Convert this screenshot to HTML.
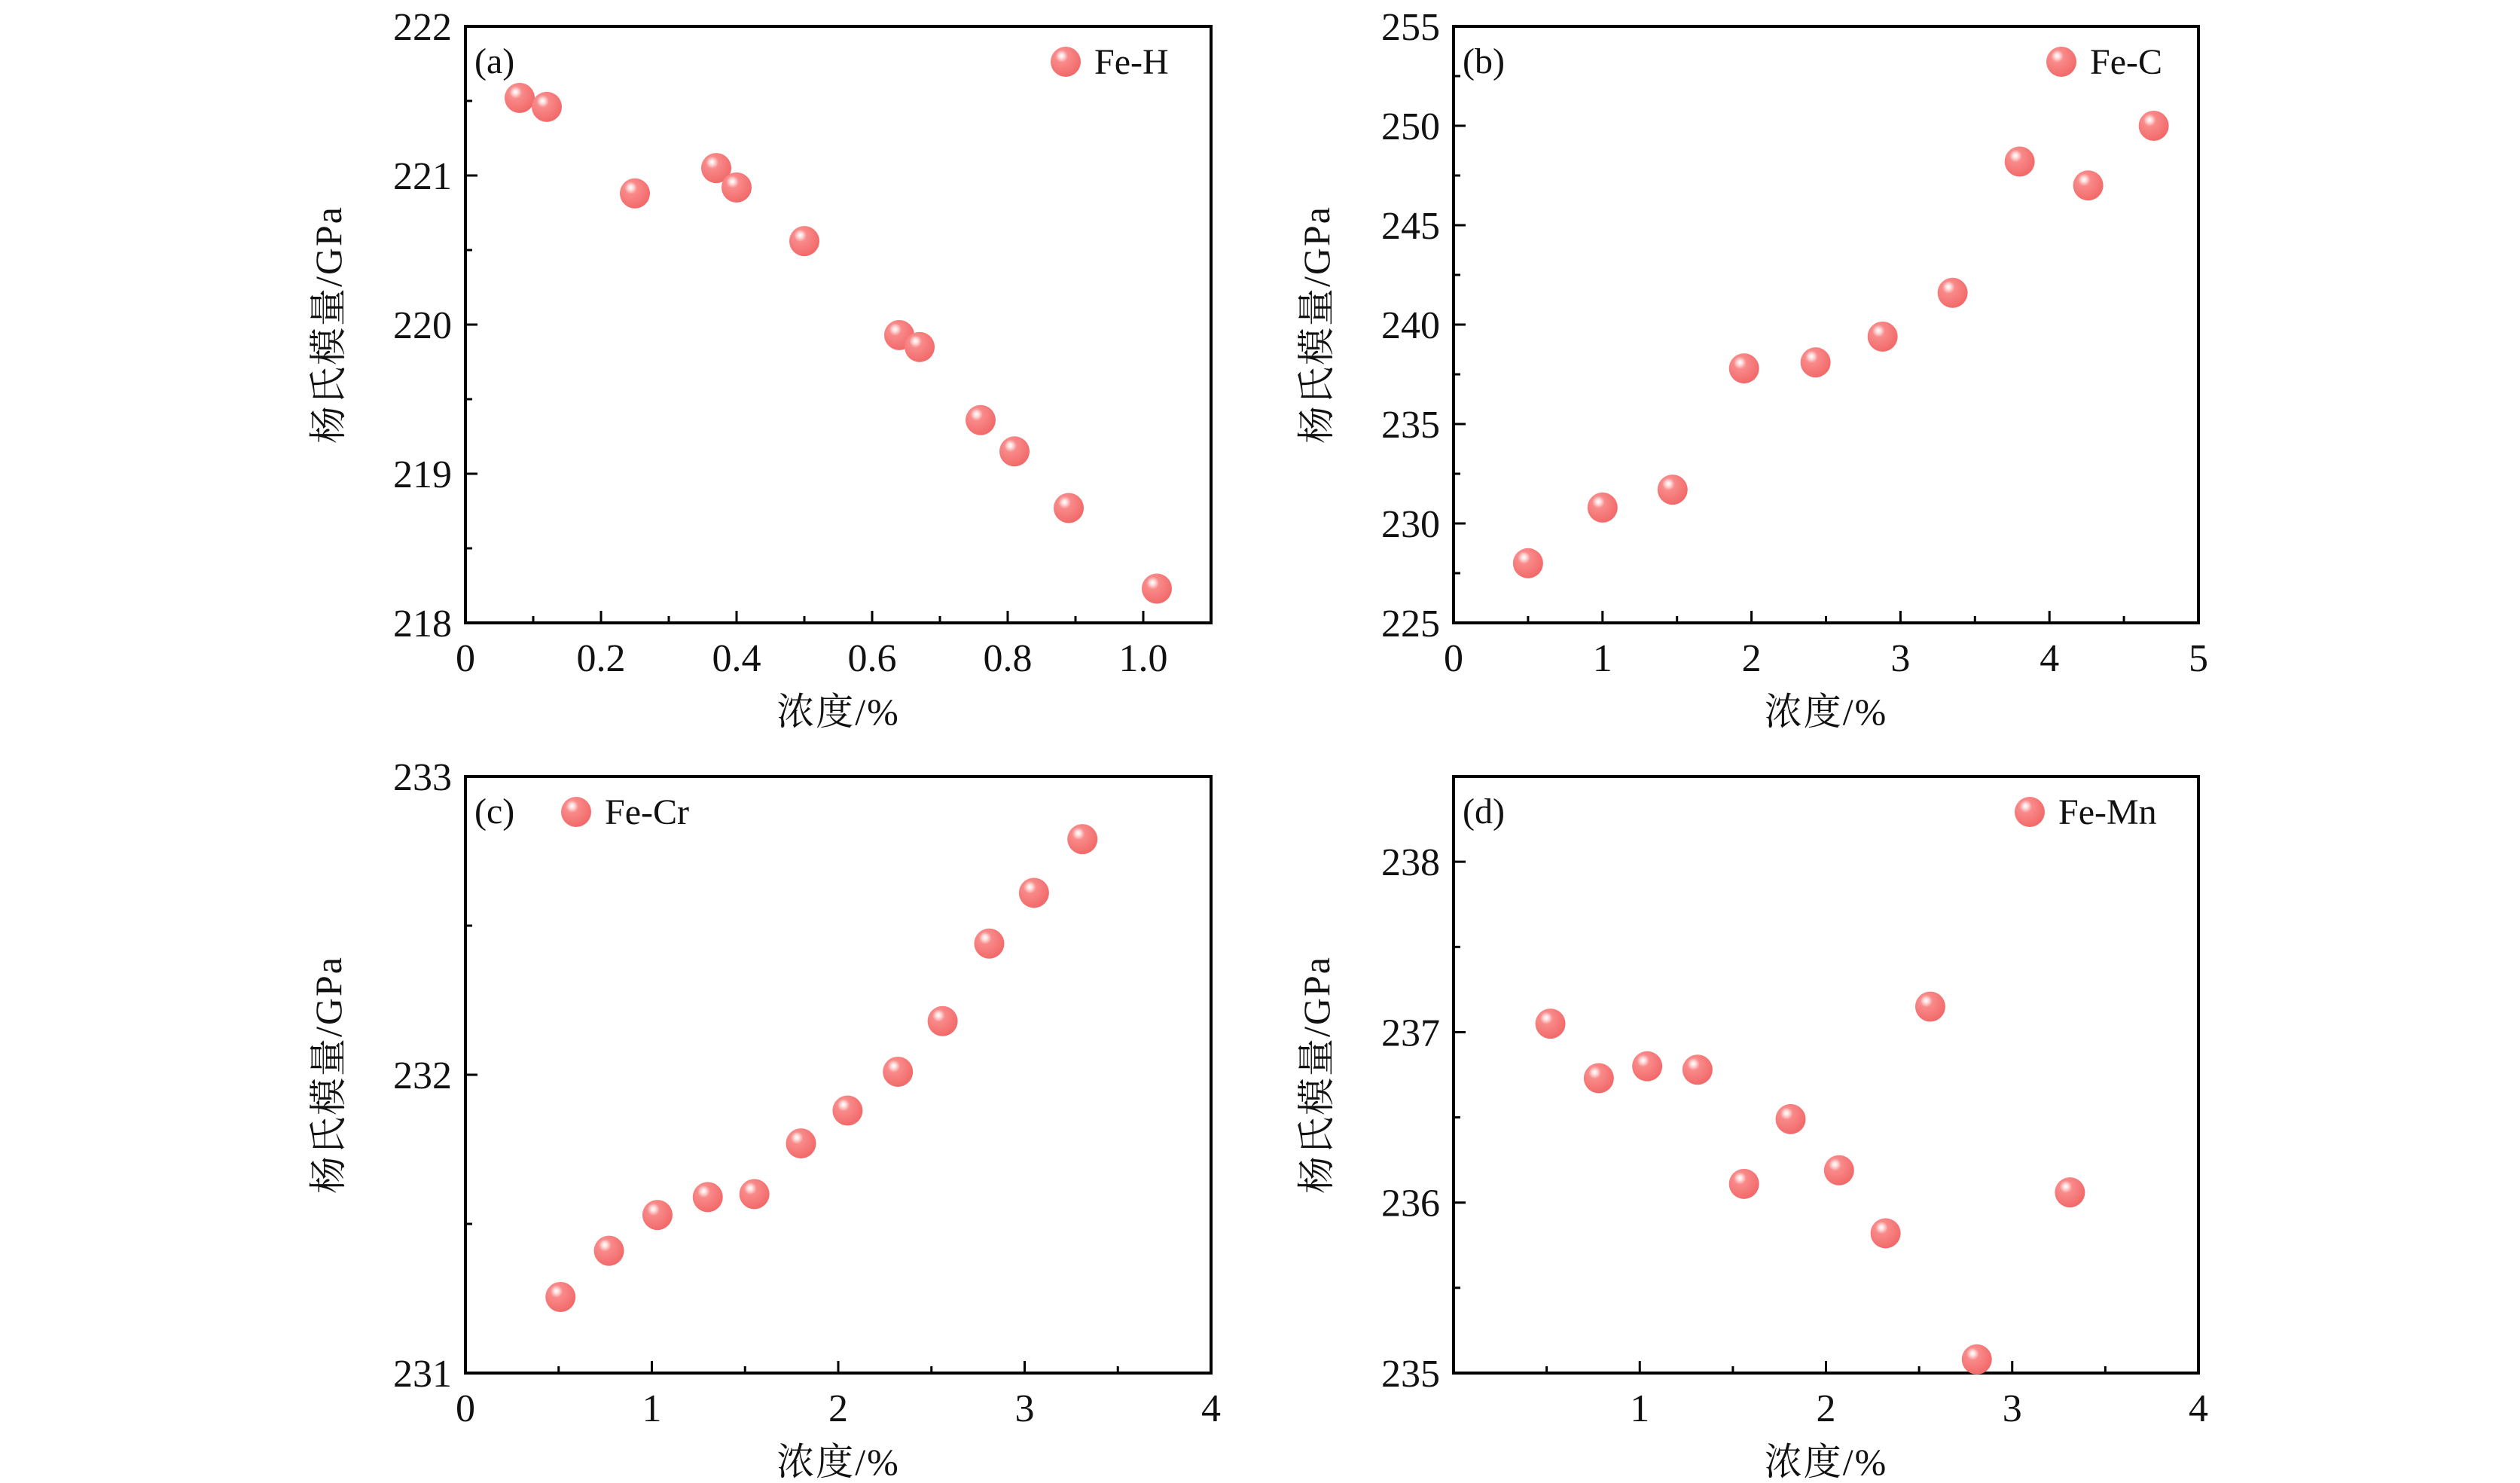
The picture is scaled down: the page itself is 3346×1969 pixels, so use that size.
<!DOCTYPE html>
<html><head><meta charset="utf-8"><style>
html,body{margin:0;padding:0;background:#fff;}
svg{display:block;}
text{font-family:"Liberation Serif","Noto Serif CJK SC",serif;fill:#111;}
</style></head><body>
<svg id="chart" width="3346" height="1969" viewBox="0 0 3346 1969" xmlns="http://www.w3.org/2000/svg">
<defs>
<radialGradient id="ball" cx="0.38" cy="0.35" r="0.65" fx="0.36" fy="0.3">
<stop offset="0" stop-color="#ffffff"/>
<stop offset="0.12" stop-color="#fde0e0"/>
<stop offset="0.32" stop-color="#f98a8a"/>
<stop offset="1" stop-color="#f26a6a"/>
</radialGradient>
</defs>
</svg>
<script>
// Panel (a) Fe-H
const aX = [0.08,0.12,0.25,0.37,0.40,0.50,0.64,0.67,0.76,0.81,0.89,1.02];
const aY = [221.52,221.46,220.88,221.05,220.92,220.56,219.93,219.85,219.36,219.15,218.77,218.23];
const aXTicks = ["0","0.2","0.4","0.6","0.8","1.0"];
const aYTicks = ["218","219","220","221","222"];
// Panel (b) Fe-C
const bX = [0.5,1.0,1.47,1.95,2.43,2.88,3.35,3.8,4.26,4.7];
const bY = [228.0,230.8,231.7,237.8,238.1,239.4,241.6,248.2,247.0,250.0];
const bXTicks = ["0","1","2","3","4","5"];
const bYTicks = ["225","230","235","240","245","250","255"];
// Panel (c) Fe-Cr
const cX = [0.51,0.77,1.03,1.30,1.55,1.80,2.05,2.32,2.56,2.81,3.05,3.31];
const cY = [231.255,231.41,231.53,231.59,231.60,231.77,231.88,232.01,232.18,232.44,232.61,232.79];
const cXTicks = ["0","1","2","3","4"];
const cYTicks = ["231","232","233"];
// Panel (d) Fe-Mn
const dX = [0.52,0.78,1.04,1.31,1.56,1.81,2.07,2.32,2.56,2.81,3.31];
const dY = [237.05,236.73,236.80,236.78,236.11,236.49,236.19,235.82,237.15,235.08,236.06];
const dXTicks = ["1","2","3","4"];
const dYTicks = ["235","236","237","238"];

const NS="http://www.w3.org/2000/svg";
const svg=document.getElementById('chart');
function mk(tag,attrs,parent){const e=document.createElementNS(NS,tag);for(const k in attrs)e.setAttribute(k,attrs[k]);(parent||svg).appendChild(e);return e;}

function panel(cfg){
  const g=mk('g',{});
  
  
  const {L,R,T,B,xmin,xmax,ymin,ymax}=cfg;
  const sx=v=>L+(v-xmin)/(xmax-xmin)*(R-L);
  const sy=v=>B-(v-ymin)/(ymax-ymin)*(B-T);
  const fr=mk('rect',{x:L,y:T,width:R-L,height:B-T,fill:'none',stroke:'#000','stroke-width':4},g);
  
  
  for(let v=cfg.xminorStart;v<=xmax+1e-9;v+=cfg.xminor){
    const x=sx(v);const major=Math.abs(v/cfg.xmajor-Math.round(v/cfg.xmajor))<1e-6;
    if(x<=L+1||x>=R-1)continue;
    mk('line',{x1:x,x2:x,y1:B,y2:B-(major?16:9),stroke:'#000','stroke-width':3},g);
  }
  cfg.xTicks.forEach(t=>{
    const tx=mk('text',{x:sx(parseFloat(t)),y:B+64,'font-size':52,'text-anchor':'middle'},g);
    tx.textContent=t;
    
    
  });
  for(let v=cfg.yminorStart;v<=ymax+1e-9;v+=cfg.yminor){
    const y=sy(v);const major=Math.abs(v/cfg.ymajor-Math.round(v/cfg.ymajor))<1e-6;
    if(y>=B-1||y<=T+1)continue;
    mk('line',{x1:L,x2:L+(major?16:9),y1:y,y2:y,stroke:'#000','stroke-width':3},g);
  }
  cfg.yTicks.forEach(t=>{
    const ty=mk('text',{x:L-18,y:sy(parseFloat(t))+18,'font-size':52,'text-anchor':'end'},g);
    ty.textContent=t;
    
    
  });
  const xl=mk('text',{x:(L+R)/2,y:B+135,'font-size':50,'text-anchor':'middle','letter-spacing':2},g);
  xl.textContent='浓度/%';
  
  
  const yl=mk('text',{x:0,y:0,'font-size':50,'text-anchor':'middle','letter-spacing':2,transform:`translate(${L-165},${(T+B)/2}) rotate(-90)`},g);
  yl.textContent='杨氏模量/GPa';
  
  
  const pl=mk('text',{x:L+12,y:T+62,'font-size':48},g);
  pl.textContent='('+cfg.id+')';
  
  
  const lg=mk('g',{},g);
  
  
  mk('circle',{cx:cfg.legX,cy:T+47,r:20,fill:'url(#ball)'},lg);
  const lt=mk('text',{x:cfg.legX+38,y:T+63,'font-size':48},lg);
  lt.textContent=cfg.name;
  cfg.xs.forEach((xv,i)=>{
    const c=mk('circle',{cx:sx(xv),cy:sy(cfg.ys[i]),r:20,fill:'url(#ball)'},g);
    
    
  });
}
panel({id:'a',name:'Fe-H',L:618,R:1608,T:35,B:827,xmin:0,xmax:1.1,ymin:218,ymax:222,xmajor:0.2,xminor:0.1,xminorStart:0,ymajor:1,yminor:0.5,yminorStart:218,xTicks:aXTicks,yTicks:aYTicks,xs:aX,ys:aY,legX:1415});
panel({id:'b',name:'Fe-C',L:1930,R:2919,T:35,B:827,xmin:0,xmax:5,ymin:225,ymax:255,xmajor:1,xminor:0.5,xminorStart:0,ymajor:5,yminor:2.5,yminorStart:225,xTicks:bXTicks,yTicks:bYTicks,xs:bX,ys:bY,legX:2737});
panel({id:'c',name:'Fe-Cr',L:618,R:1608,T:1031,B:1823,xmin:0,xmax:4,ymin:231,ymax:233,xmajor:1,xminor:0.5,xminorStart:0,ymajor:1,yminor:0.5,yminorStart:231,xTicks:cXTicks,yTicks:cYTicks,xs:cX,ys:cY,legX:765});
panel({id:'d',name:'Fe-Mn',L:1930,R:2919,T:1031,B:1823,xmin:0,xmax:4,ymin:235,ymax:238.5,xmajor:1,xminor:0.5,xminorStart:0,ymajor:1,yminor:0.5,yminorStart:235,xTicks:dXTicks,yTicks:dYTicks,xs:dX,ys:dY,legX:2695});
</script>
</body></html>
